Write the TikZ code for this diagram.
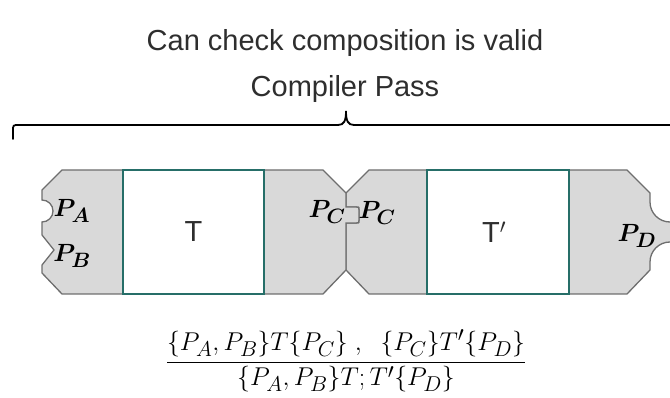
\documentclass[tikz,border=0pt]{standalone}
\usepackage{fontspec}
\setmainfont{Liberation Sans}
\definecolor{piecefill}{HTML}{D9D9D9}
\definecolor{pieceline}{HTML}{6E6E6E}
\definecolor{boxline}{HTML}{266E68}
\definecolor{txtgray}{HTML}{2E2E2E}
\begin{document}
\begin{tikzpicture}[x=1pt,y=-1pt,
  piece/.style={fill=piecefill,draw=pieceline,line width=1.3pt,line join=miter},
  tbox/.style={fill=white,draw=boxline,line width=2pt},
  sanslabel/.style={text=txtgray,font=\fontsize{29}{34}\selectfont,inner sep=0pt},
  plabel/.style={inner sep=0pt,font=\fontsize{24.88}{30}\selectfont\boldmath},
  bracepath/.style={draw=black,line width=1.8pt,line cap=round}]
\useasboundingbox (0,0) rectangle (670,398);
\clip (0,0) rectangle (670,398);
% texts
\node[sanslabel] (check) at (345,43) {Can check composition is valid};
\node[sanslabel] (pass) at (345,89) {Compiler Pass};
% brace
\path[bracepath] (13,139) -- (13,131) .. controls (13,125) .. (19,125) -- (338,125)
  .. controls (344,125) and (346,121) .. (346,111)
  .. controls (346,121) and (348,125) .. (354,125) -- (673,125)
  .. controls (679,125) .. (679,131) -- (679,139);
% left piece
\path[piece] (123,170) -- (62,170) -- (42,190) -- (42,200)
  arc[start angle=-90,end angle=90,radius=11] -- (42,235) -- (54,250) -- (42,265)
  -- (42,273) -- (62,294) -- (123,294) -- cycle;
% piece 3 (receiving)
\path[piece] (346,193) -- (369,170) -- (427,170) -- (427,294) -- (369,294) -- (346,270)
  -- (346,223) -- (356,223) .. controls (359,223) .. (359,220) -- (359,210)
  .. controls (359,207) .. (356,207) -- (346,207) -- cycle;
% piece 2 (with tab)
\path[piece] (264,170) -- (323,170) -- (346,193) -- (346,207) -- (356,207)
  .. controls (359,207) .. (359,210) -- (359,220) .. controls (359,223) .. (356,223)
  -- (346,223) -- (346,270) -- (323,294) -- (264,294) -- cycle;
% right piece
\path[piece] (569,170) -- (627,170) -- (650,193) -- (650,202)
  arc[start angle=180,end angle=90,radius=20] -- (690,222) -- (690,242) -- (670,242)
  arc[start angle=-90,end angle=-180,radius=20] -- (650,270) -- (627,294) -- (569,294) -- cycle;
% boxes
\draw[tbox] (123,170) rectangle (264,294);
\draw[tbox] (427,170) rectangle (569,294);
\node[sanslabel] (t1) at (193.5,232) {T};
\node[sanslabel] (t2) at (494,232) {T$'$};
% port labels
\node[plabel] (pa) at (72,211) {$P_A$};
\node[plabel] (pb) at (72,256) {$P_B$};
\node[plabel] (pc1) at (327,212) {$P_C$};
\node[plabel] (pc2) at (377,213) {$P_C$};
\node[plabel] (pd) at (637,236) {$P_D$};
% rule
\node[inner sep=0pt,scale=1.035,font=\fontsize{24.88}{31}\selectfont] (rule) at (346,361)
  {$\displaystyle\frac{\{P_A,P_B\}T\{P_C\}\ ,\;\ \{P_C\}T'\{P_D\}}{\{P_A,P_B\}T;T'\{P_D\}}$};
\end{tikzpicture}
\end{document}
